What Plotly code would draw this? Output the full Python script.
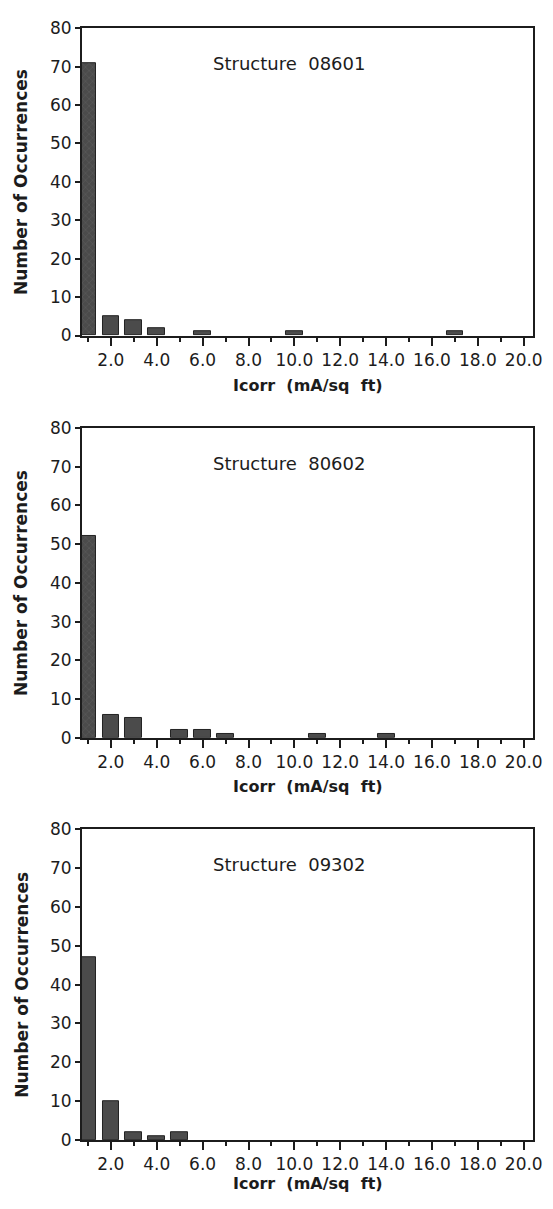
import plotly.graph_objects as go

# ---- data ----
icorr_bins = list(range(1, 21))
counts_08601 = [71, 5, 4, 2, 0, 1, 0, 0, 0, 1, 0, 0, 0, 0, 0, 0, 1, 0, 0, 0]
counts_80602 = [52, 6, 5, 0, 2, 2, 1, 0, 0, 0, 1, 0, 0, 1, 0, 0, 0, 0, 0, 0]
counts_09302 = [47, 10, 2, 1, 2, 0, 0, 0, 0, 0, 0, 0, 0, 0, 0, 0, 0, 0, 0, 0]
structure_labels = ["Structure  08601", "Structure  80602", "Structure  09302"]
x_tick_vals = [2, 4, 6, 8, 10, 12, 14, 16, 18, 20]
x_tick_text = ["2.0", "4.0", "6.0", "8.0", "10.0", "12.0", "14.0", "16.0", "18.0", "20.0"]
y_tick_vals = [0, 10, 20, 30, 40, 50, 60, 70, 80]
x_title = "Icorr  (mA/sq  ft)"
y_title = "Number of Occurrences"

W, H = 553, 1209
FONT = "DejaVu Sans"
INK = "#1c1c1c"

series = [counts_08601, counts_80602, counts_09302]
# pixel geometry of each panel (top, bottom)
panels_px = [(18.5, 331), (425, 740), (833, 1149)]
xtitle_y_px = [382, 790, 1193]
x_dom = [83.5 / W, 542.5 / W]

fig = go.Figure()
for i, (vals, (top, bot)) in enumerate(zip(series, panels_px)):
    n = "" if i == 0 else str(i + 1)
    shapes = ["x" if (j == 0 and i < 2) else "" for j in range(len(vals))]
    # empty bins draw nothing
    shown = [v if v > 0 else None for v in vals]
    fig.add_trace(go.Bar(
        x=icorr_bins, y=shown, width=0.73,
        xaxis="x" + n, yaxis="y" + n,
        marker=dict(color="#4b4b4b", line=dict(color="#222222", width=1),
                    pattern=dict(shape=shapes, fgcolor="#6e6e6e", bgcolor="#4b4b4b",
                                 size=5, solidity=0.2)),
        showlegend=False, hoverinfo="skip",
    ))
    ax = dict(
        domain=x_dom, range=[0.74, 20.39], anchor="y" + n,
        tickmode="array", tickvals=x_tick_vals, ticktext=x_tick_text,
        ticks="outside", ticklen=8, tickwidth=2, tickcolor=INK,
        minor=dict(tickmode="array", tickvals=[1, 3, 5, 7, 9, 11, 13, 15, 17, 19],
                   ticks="outside", ticklen=4, tickwidth=2, tickcolor=INK),
        showline=True, linewidth=2, linecolor=INK, mirror=True,
        showgrid=False, zeroline=False,
        tickfont=dict(family=FONT, size=17, color=INK),
        fixedrange=True,
    )
    ay = dict(
        domain=[1 - bot / H, 1 - top / H], range=[0, 80], anchor="x" + n,
        tickmode="array", tickvals=y_tick_vals,
        ticks="outside", ticklen=5, tickwidth=2, tickcolor=INK,
        showline=True, linewidth=2, linecolor=INK, mirror=True,
        showgrid=False, zeroline=False,
        tickfont=dict(family=FONT, size=17, color=INK),
        fixedrange=True,
    )
    fig.update_layout(**{"xaxis" + n: ax, "yaxis" + n: ay})
    fig.add_annotation(x=9.75, y=70.8, xref="x" + n, yref="y" + n,
                       text=structure_labels[i], showarrow=False,
                       font=dict(family=FONT, size=18, color=INK),
                       xanchor="center", yanchor="middle")
    fig.add_annotation(x=314 / W, y=1 - xtitle_y_px[i] / H, xref="paper", yref="paper",
                       text="<b>" + x_title + "</b>", showarrow=False,
                       font=dict(family=FONT, size=16, color=INK),
                       xanchor="center", yanchor="middle")
    fig.add_annotation(x=21.5 / W, y=1 - (top + bot) / 2 / H, xref="paper", yref="paper",
                       text="<b>" + y_title + "</b>", showarrow=False, textangle=-90,
                       font=dict(family=FONT, size=17, color=INK),
                       xanchor="center", yanchor="middle")

fig.update_layout(
    width=W, height=H, margin=dict(l=0, r=0, t=0, b=0),
    paper_bgcolor="white", plot_bgcolor="white", bargap=0,
)
fig.write_html("out.html")
